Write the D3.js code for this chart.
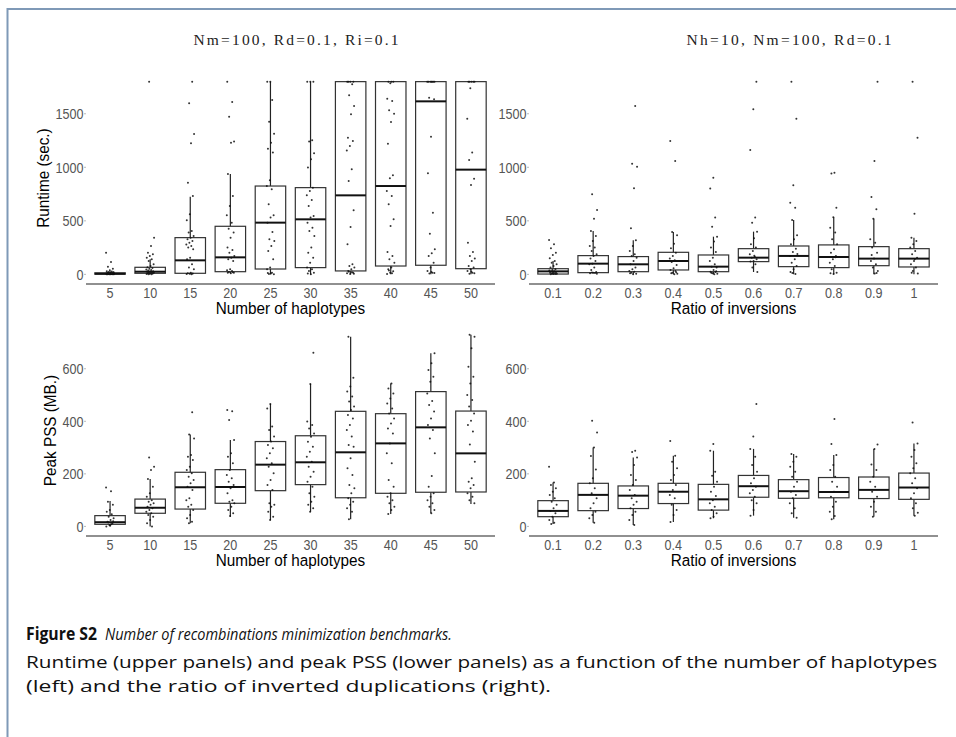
<!DOCTYPE html>
<html>
<head>
<meta charset="utf-8">
<script src="https://cdn.jsdelivr.net/npm/d3@7"></script>
<style>
  body { margin: 0; background: #fff; }
  .tick-label { font-family: "Liberation Sans", Arial, sans-serif; font-size: 15px; fill: #555; }
  .axis-title { font-family: "Liberation Sans", Arial, sans-serif; font-size: 17px; fill: #000; }
  .panel-title { font-family: "Liberation Serif", serif; font-size: 15.5px; fill: #222; }
  .caption { font-family: "Open Sans", sans-serif; font-size: 17px; fill: #111; }
</style>
</head>
<body>
<svg id="fig"></svg>
<script>
// categories and tick labels
var hapCats = ["5", "10", "15", "20", "25", "30", "35", "40", "45", "50"];
var ratioCats = ["0.1", "0.2", "0.3", "0.4", "0.5", "0.6", "0.7", "0.8", "0.9", "1"];
var runtimeTicks = [0, 500, 1000, 1500];
var pssTicks = [0, 200, 400, 600];

// box stats: [lower whisker, q1, median, q3, upper whisker]
var runtimeHapStats = [
    [0, 2, 6, 14, 30], [0, 10, 25, 66, 140], [1, 10, 131, 343, 726], [10, 25, 159, 449, 938],
    [0, 50, 483, 825, 1800], [0, 63, 514, 810, 1800], [0, 32, 738, 1800, 1800],
    [0, 78, 825, 1800, 1800], [0, 85, 1616, 1800, 1800], [0, 53, 978, 1800, 1800]
];
var runtimeRatioStats = [
    [0, 3, 28, 53, 125], [10, 16, 100, 175, 405], [0, 25, 94, 166, 318], [0, 41, 125, 206, 396],
    [0, 25, 72, 181, 352], [22, 119, 156, 240, 399], [0, 72, 172, 265, 508],
    [0, 63, 162, 275, 533], [0, 81, 147, 259, 520], [0, 69, 147, 240, 343]
];
var pssHapStats = [
    [0, 8, 16, 41, 97], [0, 50, 71, 104, 180], [12, 66, 149, 206, 350], [37, 88, 150, 216, 329],
    [24, 136, 235, 323, 466], [56, 159, 244, 345, 542], [27, 109, 282, 438, 722],
    [47, 126, 316, 429, 544], [50, 130, 377, 513, 659], [85, 131, 278, 439, 729]
];
var pssRatioStats = [
    [9, 37, 59, 98, 167], [14, 60, 120, 164, 300], [5, 68, 117, 154, 262], [17, 87, 132, 164, 269],
    [31, 62, 103, 160, 288], [41, 111, 153, 194, 295], [33, 107, 134, 178, 276],
    [27, 109, 131, 186, 272], [37, 106, 139, 188, 295], [41, 103, 148, 203, 316]
];

// individual runs (jittered dots)
var runtimeHapPoints = [
    [202, 115, 72, 53, 38, 30, 26, 22, 18, 15, 13, 11, 9, 8, 7, 6, 5, 5, 4, 3, 3, 2, 2, 1, 1, 0, 0, 10, 12, 20],
    [1800, 343, 265, 203, 187, 172, 156, 140, 125, 94, 78, 66, 60, 52, 45, 40, 35, 30, 27, 24, 20, 18, 15, 12, 10, 8, 6, 4, 2, 1],
    [1800, 1598, 1311, 1224, 856, 732, 561, 505, 405, 390, 358, 343, 327, 312, 296, 280, 265, 250, 234, 156, 140, 94, 63, 47, 16, 10, 8, 5, 3, 1],
    [1800, 1610, 1473, 1240, 1230, 938, 732, 639, 552, 483, 427, 390, 343, 250, 228, 203, 172, 156, 140, 125, 47, 38, 32, 22, 16, 10, 14, 20],
    [1800, 1800, 1629, 1426, 1314, 1230, 1174, 1137, 878, 825, 794, 654, 552, 530, 483, 396, 327, 312, 265, 218, 140, 63, 47, 16, 3, 1, 8, 12],
    [1800, 1800, 1800, 1252, 1240, 1131, 1075, 997, 810, 779, 738, 695, 639, 545, 530, 483, 436, 405, 358, 250, 203, 156, 109, 63, 47, 31, 16, 2, 8],
    [1800, 1800, 1800, 1800, 1775, 1672, 1573, 1495, 1277, 1246, 1199, 1158, 981, 872, 598, 443, 281, 94, 78, 63, 47, 32, 16, 4, 10, 20, 25, 6],
    [1800, 1800, 1800, 1784, 1641, 1619, 1532, 1501, 1423, 1221, 925, 897, 779, 732, 654, 514, 452, 209, 172, 140, 109, 63, 47, 28, 16, 4, 10, 35],
    [1800, 1800, 1800, 1800, 1800, 1800, 1800, 1650, 1635, 1286, 944, 576, 380, 234, 197, 172, 109, 63, 31, 16, 8, 12, 22],
    [1800, 1800, 1800, 1800, 1800, 1738, 1454, 1137, 1068, 894, 835, 296, 209, 172, 147, 125, 78, 63, 47, 31, 16, 5, 10, 25]
];
var runtimeRatioPoints = [
    [321, 281, 243, 203, 181, 150, 125, 109, 94, 78, 63, 47, 40, 35, 30, 26, 22, 18, 15, 12, 9, 6, 3, 1, 4, 8],
    [748, 601, 520, 405, 358, 312, 265, 250, 218, 187, 172, 147, 125, 100, 94, 63, 41, 22, 16, 10, 12, 18, 5],
    [1573, 1034, 1006, 804, 430, 318, 265, 218, 187, 172, 156, 125, 94, 63, 47, 31, 25, 16, 5, 1, 10],
    [1246, 1059, 396, 365, 287, 243, 203, 172, 147, 131, 116, 88, 56, 41, 31, 16, 5, 2, 10, 20],
    [903, 801, 530, 445, 352, 306, 250, 209, 156, 125, 94, 72, 63, 41, 25, 22, 10, 5, 2, 15, 30],
    [1800, 1541, 1162, 530, 483, 399, 337, 281, 250, 218, 187, 165, 156, 140, 125, 119, 94, 63, 22, 175],
    [1800, 1454, 832, 670, 623, 508, 365, 327, 281, 240, 209, 172, 140, 109, 78, 47, 22, 4, 12, 190],
    [950, 941, 623, 533, 436, 390, 327, 281, 234, 203, 172, 140, 109, 78, 47, 16, 4, 10, 160],
    [1800, 1059, 723, 608, 520, 327, 296, 250, 203, 147, 125, 94, 63, 32, 7, 180, 12],
    [1800, 1277, 567, 343, 312, 281, 250, 218, 187, 156, 125, 94, 63, 31, 7, 140, 15]
];
var pssHapPoints = [
    [148, 134, 94, 82, 62, 56, 46, 37, 31, 24, 18, 12, 5, 0, 8, 15, 20, 3],
    [262, 227, 215, 180, 151, 126, 113, 100, 94, 88, 82, 75, 69, 62, 56, 50, 43, 37, 24, 12, 0],
    [434, 350, 335, 272, 265, 253, 227, 215, 202, 189, 177, 164, 151, 139, 107, 100, 82, 75, 62, 43, 31, 18, 12],
    [443, 438, 405, 329, 278, 265, 240, 215, 196, 183, 170, 158, 145, 126, 100, 94, 88, 75, 62, 50, 40],
    [466, 449, 380, 367, 342, 323, 310, 297, 278, 259, 240, 227, 202, 177, 158, 139, 88, 82, 75, 56, 37, 24],
    [661, 542, 399, 386, 373, 354, 341, 322, 303, 284, 265, 246, 227, 208, 189, 170, 151, 126, 113, 94, 82, 69, 56],
    [722, 566, 532, 513, 494, 475, 456, 443, 424, 411, 386, 367, 342, 310, 303, 259, 221, 196, 158, 145, 126, 107, 94, 82, 69, 56, 27],
    [544, 525, 506, 487, 468, 449, 430, 411, 392, 373, 354, 316, 278, 240, 177, 151, 126, 113, 100, 88, 75, 62, 47],
    [659, 621, 595, 570, 551, 506, 477, 462, 437, 411, 386, 367, 335, 278, 192, 151, 126, 113, 100, 88, 75, 62, 50],
    [729, 722, 678, 608, 570, 544, 500, 481, 456, 430, 402, 386, 361, 312, 246, 183, 170, 158, 145, 126, 113, 100, 88]
];
var pssRatioPoints = [
    [227, 167, 158, 145, 132, 120, 107, 94, 82, 69, 59, 50, 37, 24, 14, 9],
    [402, 357, 300, 268, 217, 183, 164, 145, 126, 107, 88, 69, 56, 43, 31, 14],
    [288, 283, 262, 234, 196, 177, 158, 139, 120, 107, 94, 82, 69, 56, 43, 24, 5],
    [325, 269, 246, 221, 196, 177, 158, 139, 120, 107, 82, 62, 43, 17],
    [314, 288, 208, 193, 170, 151, 132, 116, 100, 88, 75, 62, 50, 37, 31],
    [466, 342, 295, 265, 234, 208, 183, 164, 151, 139, 126, 113, 100, 88, 62, 41],
    [276, 265, 246, 227, 208, 189, 170, 151, 132, 120, 107, 88, 69, 50, 33],
    [409, 314, 272, 234, 215, 189, 170, 151, 132, 113, 94, 75, 56, 40, 27],
    [312, 295, 236, 215, 189, 170, 151, 132, 113, 94, 75, 56, 37],
    [395, 316, 291, 265, 240, 221, 202, 183, 164, 145, 126, 107, 88, 69, 52, 41]
];

var width = 956, height = 737;
var narrowTick = 0.84, narrowTitle = 0.9;   // no narrow font installed, squeeze instead

var svg = d3.select("#fig")
    .attr("width", width)
    .attr("height", height);

// frame of the figure box
svg.append("path")
    .attr("d", "M7.5," + height + "V9H" + width)
    .attr("fill", "none")
    .attr("stroke", "#7f99b7")
    .attr("stroke-width", 2);

// panel layout
var panels = [
    { cats: hapCats, stats: runtimeHapStats, pts: runtimeHapPoints, ticks: runtimeTicks, domain: [-90, 1890],
      x0: 86, x1: 495, top: 72, bottom: 284, xTitle: "Number of haplotypes", yTitle: "Runtime (sec.)", yTitleX: 49,
      title: "Nm=100, Rd=0.1, Ri=0.1", titleX: 296, titleY: 44.5 },
    { cats: ratioCats, stats: runtimeRatioStats, pts: runtimeRatioPoints, ticks: runtimeTicks, domain: [-90, 1890],
      x0: 529, x1: 938, top: 72, bottom: 284, xTitle: "Ratio of inversions", yTitle: null,
      title: "Nh=10, Nm=100, Rd=0.1", titleX: 789, titleY: 44.5 },
    { cats: hapCats, stats: pssHapStats, pts: pssHapPoints, ticks: pssTicks, domain: [-36.5, 766.5],
      x0: 86, x1: 495, top: 325, bottom: 536, xTitle: "Number of haplotypes", yTitle: "Peak PSS (MB.)", yTitleX: 56 },
    { cats: ratioCats, stats: pssRatioStats, pts: pssRatioPoints, ticks: pssTicks, domain: [-36.5, 766.5],
      x0: 529, x1: 938, top: 325, bottom: 536, xTitle: "Ratio of inversions", yTitle: null }
];

function squeeze(x, y, k) {
    return "translate(" + x + "," + y + ") scale(" + k + ",1)";
}

panels.forEach(function (p) {
    var x = d3.scalePoint().domain(p.cats).range([p.x0, p.x1]).padding(0.6);
    var y = d3.scaleLinear().domain(p.domain).range([p.bottom, p.top]);
    var boxW = x.step() * 0.76;
    var g = svg.append("g");

    if (p.title) {
        g.append("text")
            .attr("class", "panel-title")
            .attr("x", p.titleX).attr("y", p.titleY)
            .attr("text-anchor", "middle")
            .attr("textLength", 205)
            .attr("lengthAdjust", "spacing")
            .text(p.title);
    }

    // y axis: tiny ticks and grey labels, no line
    var yAxis = g.append("g").selectAll("g.yt").data(p.ticks).enter().append("g");
    yAxis.append("line")
        .attr("x1", p.x0 - 2).attr("x2", p.x0)
        .attr("y1", function (d) { return y(d); }).attr("y2", function (d) { return y(d); })
        .attr("stroke", "#aaa").attr("stroke-width", 0.8);
    yAxis.append("text")
        .attr("class", "tick-label")
        .attr("transform", function (d) { return squeeze(p.x0 - 2.5, y(d), narrowTick); })
        .attr("dy", "0.36em")
        .attr("text-anchor", "end")
        .text(function (d) { return d; });

    // x axis line and labels
    g.append("line")
        .attr("x1", p.x0).attr("x2", p.x1)
        .attr("y1", p.bottom).attr("y2", p.bottom)
        .attr("stroke", "#222").attr("stroke-width", 1.2);
    g.selectAll("text.xt").data(p.cats).enter().append("text")
        .attr("class", "tick-label xt")
        .attr("transform", function (d) { return squeeze(x(d), p.bottom + 14, narrowTick); })
        .attr("text-anchor", "middle")
        .text(function (d) { return d; });

    g.append("text")
        .attr("class", "axis-title")
        .attr("transform", squeeze((p.x0 + p.x1) / 2, p.bottom + 29.5, narrowTitle))
        .attr("text-anchor", "middle")
        .text(p.xTitle);

    if (p.yTitle) {
        g.append("text")
            .attr("class", "axis-title")
            .attr("transform", "translate(" + p.yTitleX + "," + (p.top + p.bottom) / 2 + ") rotate(-90) scale(" + narrowTitle + ",1)")
            .attr("text-anchor", "middle")
            .text(p.yTitle);
    }

    // boxes
    var box = g.selectAll("g.box").data(p.cats).enter().append("g")
        .attr("class", "box")
        .attr("transform", function (d) { return "translate(" + x(d) + ",0)"; });

    box.append("line")
        .attr("y1", function (d, i) { return y(p.stats[i][3]); })
        .attr("y2", function (d, i) { return y(p.stats[i][4]); })
        .attr("stroke", "#222").attr("stroke-width", 1.2);
    box.append("line")
        .attr("y1", function (d, i) { return y(p.stats[i][0]); })
        .attr("y2", function (d, i) { return y(p.stats[i][1]); })
        .attr("stroke", "#222").attr("stroke-width", 1.2);
    box.append("rect")
        .attr("x", -boxW / 2).attr("width", boxW)
        .attr("y", function (d, i) { return y(p.stats[i][3]); })
        .attr("height", function (d, i) { return y(p.stats[i][1]) - y(p.stats[i][3]); })
        .attr("fill", "#fff")
        .attr("stroke", "#333").attr("stroke-width", 1.2);
    box.append("line")
        .attr("x1", -boxW / 2).attr("x2", boxW / 2)
        .attr("y1", function (d, i) { return y(p.stats[i][2]); })
        .attr("y2", function (d, i) { return y(p.stats[i][2]); })
        .attr("stroke", "#111").attr("stroke-width", 2);

    // jittered dots, small fixed spread around the category
    box.each(function (d, i) {
        d3.select(this).selectAll("circle").data(p.pts[i]).enter().append("circle")
            .attr("cx", function (v, j) { return (((j * 0.618034 + i * 0.37) % 1) - 0.5) * 8; })
            .attr("cy", function (v) { return y(v); })
            .attr("r", 1)
            .attr("fill", "#111")
            .attr("fill-opacity", 0.85);
    });
});

// caption
var cap = svg.append("g").attr("class", "caption");
cap.append("text").attr("x", 26).attr("y", 640)
    .attr("font-weight", "bold")
    .attr("textLength", 71).attr("lengthAdjust", "spacingAndGlyphs")
    .text("Figure S2");
cap.append("text").attr("x", 105).attr("y", 640)
    .attr("font-style", "italic")
    .attr("textLength", 347).attr("lengthAdjust", "spacingAndGlyphs")
    .text("Number of recombinations minimization benchmarks.");
cap.append("text").attr("x", 26).attr("y", 668)
    .attr("textLength", 911).attr("lengthAdjust", "spacingAndGlyphs")
    .text("Runtime (upper panels) and peak PSS (lower panels) as a function of the number of haplotypes");
cap.append("text").attr("x", 26).attr("y", 692)
    .attr("textLength", 525).attr("lengthAdjust", "spacingAndGlyphs")
    .text("(left) and the ratio of inverted duplications (right).");
</script>
</body>
</html>
